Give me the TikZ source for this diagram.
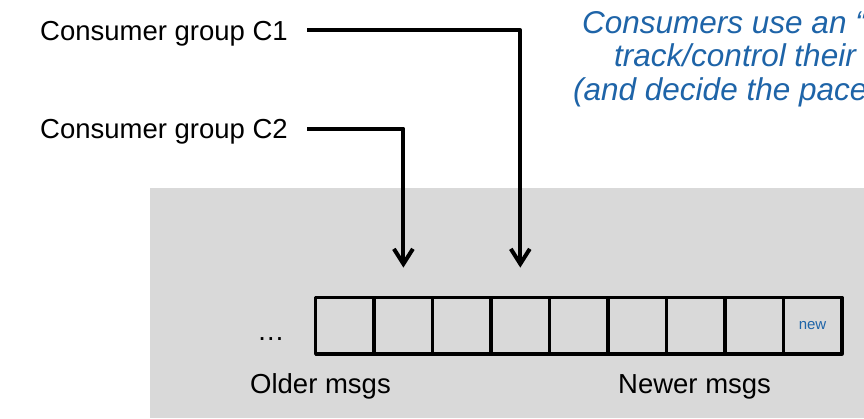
\documentclass[tikz,border=0pt]{standalone}
\usepackage{fontspec}
\setmainfont{Liberation Sans}
\usetikzlibrary{arrows.meta,positioning,calc}
\definecolor{bggrey}{HTML}{D9D9D9}
\definecolor{noteblue}{RGB}{30,100,168}

\begin{document}
\begin{tikzpicture}[x=1pt,y=-1pt,
		label/.style={inner sep=0pt, anchor=base west, font=\fontsize{27.5}{33}\selectfont},
		note/.style={inner sep=0pt, anchor=base west, text=noteblue, font=\fontsize{31.5}{38}\selectfont\itshape},
		cell/.style={draw, line width=3.5pt, line join=round, minimum width=58.45pt, minimum height=56.7pt, inner sep=0pt},
		ptr/.style={-{Straight Barb[length=15pt,width=19pt]}, line width=4pt, line join=round}]
		\clip (0,0) rectangle (864,418);
		\fill[white] (0,0) rectangle (864,418);
		\fill[bggrey] (149.5,188) rectangle (864,418);
		
		% consumer groups
		\node[label] (c1) at (40,40) {Consumer group C1};
		\node[label] (c2) at (40,138.3) {Consumer group C2};
		
		% note, cut off at the right edge
		\node[note] (note1) at (582,33.3) {Consumers use an “};
		\node[note] (note2) at (614,66.7) {track/control their};
		\node[note] (note3) at (573,100.5) {(and decide the pace};
		
		% the log
		\foreach \i in {1,...,9}
			\node[cell] (cell\i) at (315.7+58.45*\i-29.2, 325.7) {};
		\node[font=\fontsize{15}{18}\selectfont, text=noteblue] (newtag) at (cell9) {new};
		\node[label] (dots) at (257,340) {…};
		\node[label] (older) at (250,393.3) {Older msgs};
		\node[label] (newer) at (618,393.3) {Newer msgs};
		
		% read positions
		\draw[ptr] ([xshift=19pt,yshift=3pt]c1.east) -| ($(cell4.north)+(0,-28)$);
		\draw[ptr] ([xshift=19pt,yshift=3pt]c2.east) -| ($(cell2.north)+(0,-28)$);
	\end{tikzpicture}
\end{document}
